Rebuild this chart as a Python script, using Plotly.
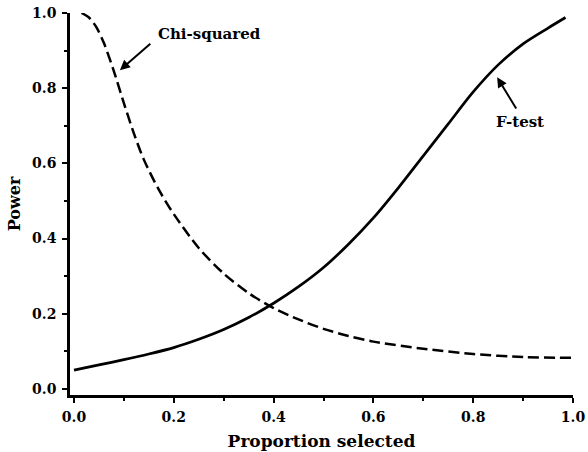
import plotly.graph_objects as go

# Data
ftest_x = [0.0, 0.05, 0.1, 0.15, 0.2, 0.25, 0.3, 0.35, 0.4, 0.45, 0.5, 0.55, 0.6, 0.65, 0.7, 0.75, 0.8, 0.85, 0.9, 0.95, 0.985]
ftest_y = [0.05, 0.064, 0.078, 0.093, 0.11, 0.132, 0.158, 0.19, 0.228, 0.272, 0.323, 0.385, 0.455, 0.535, 0.62, 0.705, 0.79, 0.862, 0.918, 0.96, 0.988]

chi_x = [0.015, 0.03, 0.045, 0.06, 0.08, 0.1, 0.12, 0.14, 0.17, 0.2, 0.25, 0.3, 0.35, 0.4, 0.45, 0.5, 0.55, 0.6, 0.7, 0.8, 0.9, 1.0]
chi_y = [1.0, 0.988, 0.962, 0.92, 0.845, 0.76, 0.68, 0.61, 0.53, 0.465, 0.375, 0.307, 0.255, 0.215, 0.185, 0.16, 0.141, 0.126, 0.107, 0.093, 0.085, 0.083]

tick_vals = [0.0, 0.2, 0.4, 0.6, 0.8, 1.0]
tick_text = ["0.0", "0.2", "0.4", "0.6", "0.8", "1.0"]

FONT = "DejaVu Serif"

fig = go.Figure()
fig.add_trace(go.Scatter(x=ftest_x, y=ftest_y, mode="lines", line=dict(color="black", width=2.7, shape="spline", smoothing=0.8), name="F-test"))
fig.add_trace(go.Scatter(x=chi_x, y=chi_y, mode="lines", line=dict(color="black", width=2.5, dash="11px,5px", shape="spline", smoothing=0.8), name="Chi-squared"))

axis_common = dict(
    showgrid=False, zeroline=False, showline=True, linecolor="black", linewidth=2.5,
    ticks="outside", ticklen=5, tickwidth=2, tickcolor="black",
    tickvals=tick_vals, ticktext=tick_text, automargin=False,
    tickfont=dict(family=FONT, size=14, color="black", weight="bold"),
    minor=dict(ticks="outside", ticklen=3, tickwidth=1.5, tickcolor="black", dtick=0.1, tick0=0),
)

fig.update_layout(
    width=588, height=452,
    margin=dict(l=70, r=15, t=13, b=57),
    paper_bgcolor="white", plot_bgcolor="white",
    showlegend=False,
    xaxis=dict(range=[-0.008, 1.0], ticklabelstandoff=2,
               title=dict(text="<b>Proportion selected</b>", font=dict(family=FONT, size=17, color="black"), standoff=12), **axis_common),
    yaxis=dict(range=[-0.016, 1.0], ticklabelstandoff=3,
               title=dict(text="<b>Power</b>", font=dict(family=FONT, size=16, color="black"), standoff=8), **axis_common),
)

# Arrows
fig.add_annotation(x=0.092, y=0.848, ax=0.156, ay=0.922, xref="x", yref="y", axref="x", ayref="y",
                   text="", showarrow=True, arrowhead=2, arrowsize=1, arrowwidth=2, arrowcolor="black")
fig.add_annotation(x=0.848, y=0.829, ax=0.888, ay=0.742, xref="x", yref="y", axref="x", ayref="y",
                   text="", showarrow=True, arrowhead=2, arrowsize=1, arrowwidth=2, arrowcolor="black")
# Labels
fig.add_annotation(x=0.164, y=0.945, xref="x", yref="y", xanchor="left", yanchor="middle", showarrow=False,
                   text="<b>Chi-squared</b>", font=dict(family=FONT, size=15, color="black"))
fig.add_annotation(x=0.894, y=0.71, xref="x", yref="y", xanchor="center", yanchor="middle", showarrow=False,
                   text="<b>F-test</b>", font=dict(family=FONT, size=15, color="black"))

fig.write_html("out.html", config={"displayModeBar": False},
               post_script="document.body.style.margin='0';document.body.style.overflow='hidden';")
